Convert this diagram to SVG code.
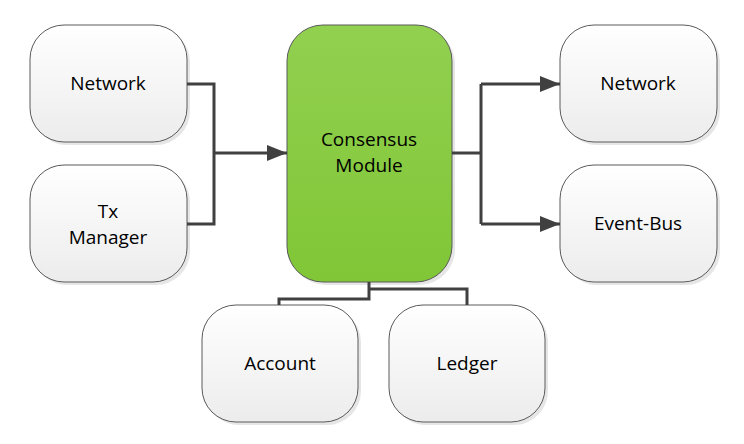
<svg xmlns="http://www.w3.org/2000/svg" width="744" height="444" viewBox="0 0 744 444">
<defs>
<linearGradient id="gw" x1="0" y1="0" x2="0" y2="1"><stop offset="0" stop-color="#ffffff"/><stop offset="1" stop-color="#ececec"/></linearGradient>
<linearGradient id="gg" x1="0" y1="0" x2="0" y2="1"><stop offset="0" stop-color="#92d050"/><stop offset="1" stop-color="#80c636"/></linearGradient>
<marker id="ah" markerWidth="20" markerHeight="16" viewBox="0 0 20 16" refX="20" refY="8" orient="auto" markerUnits="userSpaceOnUse"><path d="M0,0 L20,8 L0,16 Z" fill="#404040"/></marker>
</defs>
<style>
.sh{fill:#e6e6e6}
.box{fill:url(#gw);stroke:#5a5a5a;stroke-width:1}
.grn{fill:url(#gg);stroke:#5a5a5a;stroke-width:1}
.t{font-family:"Open Sans","Noto Sans",sans-serif;font-size:19px;fill:#000;text-anchor:middle}
.c{fill:none;stroke:#404040;stroke-width:3}
</style>
<rect width="744" height="444" fill="#fff"/>
<g id="network-in"><rect class="sh" x="33" y="28" width="157" height="117" rx="34"/><rect class="box" x="30" y="25" width="157" height="117" rx="34"/><text class="t" x="108" y="90">Network</text></g>
<g id="tx-manager"><rect class="sh" x="33" y="168" width="157" height="117" rx="34"/><rect class="box" x="30" y="165" width="157" height="117" rx="34"/><text class="t" x="108" y="218">Tx</text><text class="t" x="108" y="244">Manager</text></g>
<g id="consensus"><rect class="sh" x="290" y="28" width="165" height="257" rx="36"/><rect class="grn" x="287" y="25" width="165" height="257" rx="36"/><text class="t" x="369" y="146">Consensus</text><text class="t" x="369" y="172">Module</text></g>
<g id="network-out"><rect class="sh" x="563" y="28" width="157" height="117" rx="34"/><rect class="box" x="560" y="25" width="157" height="117" rx="34"/><text class="t" x="638" y="90">Network</text></g>
<g id="event-bus"><rect class="sh" x="563" y="168" width="157" height="117" rx="34"/><rect class="box" x="560" y="165" width="157" height="117" rx="34"/><text class="t" x="638" y="230">Event-Bus</text></g>
<g id="account"><rect class="sh" x="205" y="308" width="156" height="117" rx="34"/><rect class="box" x="202" y="305" width="156" height="117" rx="34"/><text class="t" x="280" y="370">Account</text></g>
<g id="ledger"><rect class="sh" x="392" y="308" width="156" height="117" rx="34"/><rect class="box" x="389" y="305" width="156" height="117" rx="34"/><text class="t" x="467" y="370">Ledger</text></g>
<g id="connectors">
<path class="c" d="M187,84 H214 V224 H187"/>
<path class="c" d="M214,153 H287" marker-end="url(#ah)"/>
<path class="c" d="M452,153 H481"/>
<path class="c" d="M481,84 V224"/>
<path class="c" d="M481,84 H560" marker-end="url(#ah)"/>
<path class="c" d="M481,224 H560" marker-end="url(#ah)"/>
<path class="c" d="M369,282 V299 H279 V305"/>
<path class="c" d="M369,289 H467 V305"/>
</g>
</svg>
